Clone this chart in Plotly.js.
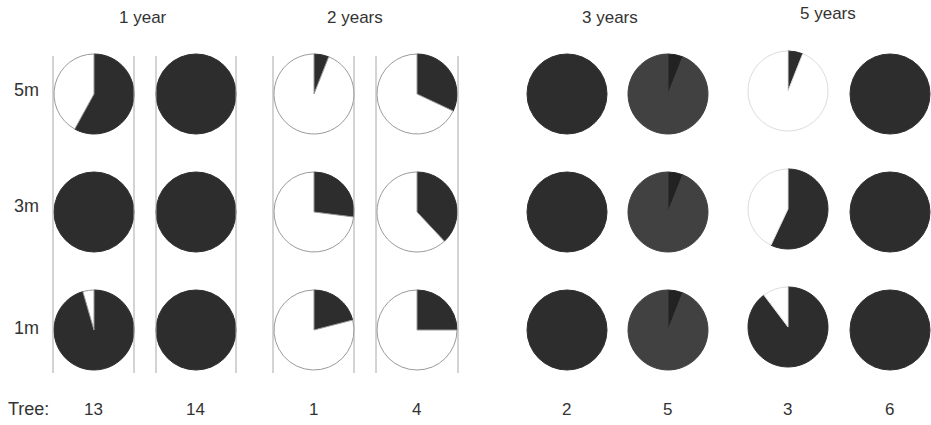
<!DOCTYPE html>
<html>
<head>
<meta charset="utf-8">
<script src="https://cdn.plot.ly/plotly-3.0.1.min.js"></script>
<style>html,body{margin:0;padding:0;background:#fff;}#chart{width:931px;height:425px;}</style>
</head>
<body>
<div id="chart"></div>
<script>
// ---- data ----
const groups = ["1 year", "2 years", "3 years", "5 years"];
const trees = ["13", "14", "1", "4", "2", "5", "3", "6"];
const heights = ["5m", "3m", "1m"];
// shares of each pie, per height (rows: 5m, 3m, 1m) and tree (columns)
// dark wedge starting at 12 o'clock, clockwise
const darkShare = [
  [0.58, 1.00, 0.06, 0.32, 1.00, 0.06, 0.06, 1.00],
  [1.00, 1.00, 0.27, 0.38, 1.00, 0.06, 0.57, 1.00],
  [0.955, 1.00, 0.21, 0.25, 1.00, 0.06, 0.897, 1.00]
];
// mid-grey share following the dark wedge
const greyShare = [
  [0, 0, 0, 0, 0, 0.94, 0, 0],
  [0, 0, 0, 0, 0, 0.94, 0, 0],
  [0, 0, 0, 0, 0, 0.94, 0, 0]
];
// white remainder
const whiteShare = [
  [0.42, 0, 0.94, 0.68, 0, 0, 0.94, 0],
  [0, 0, 0.73, 0.62, 0, 0, 0.43, 0],
  [0.045, 0, 0.79, 0.75, 0, 0, 0.103, 0]
];

// ---- layout constants ----
const W = 931, H = 425, R = 40;
const colX = [94, 196, 314, 417, 567, 668, 788, 890];
const rowY = [94, 212, 330];
const colYShift = [0, 0, 0, 0, 0, 0, -3, 0];
const COLORS = { dark: "#2d2d2d", grey: "#414141", white: "#ffffff" };
const darkWedgeOnGrey = "#222222";

const traces = [];
for (let r = 0; r < heights.length; r++) {
  for (let c = 0; c < trees.length; c++) {
    const cx = colX[c], cy = rowY[r] + colYShift[c];
    const outline = (c === 6) ? "#dcdcdc" : "#9a9a9a";
    const parts = [
      { v: darkShare[r][c], label: "dark", fill: greyShare[r][c] > 0 ? darkWedgeOnGrey : COLORS.dark },
      { v: greyShare[r][c], label: "grey", fill: COLORS.grey },
      { v: whiteShare[r][c], label: "white", fill: COLORS.white }
    ].filter(p => p.v > 0);
    traces.push({
      type: "pie",
      values: parts.map(p => p.v),
      labels: parts.map(p => p.label),
      sort: false,
      direction: "clockwise",
      rotation: 0,
      textinfo: "none",
      hoverinfo: "none",
      showlegend: false,
      marker: {
        colors: parts.map(p => p.fill),
        line: { color: parts.map(p => p.label === "white" ? outline : p.fill), width: 1 }
      },
      domain: {
        x: [(cx - R) / W, (cx + R) / W],
        y: [1 - (cy + R) / H, 1 - (cy - R) / H]
      }
    });
  }
}

const font = { family: "Liberation Sans, Arial, sans-serif", color: "#333" };
const f = s => Object.assign({ size: s }, font);
const annotations = [];
const groupX = [143, 355, 610, 828], groupY = [17, 17, 17, 13];
groups.forEach((g, i) => annotations.push({
  text: g, x: groupX[i] / W, y: 1 - groupY[i] / H, xref: "paper", yref: "paper",
  showarrow: false, xanchor: "center", yanchor: "middle", font: f(17)
}));
const rowLabelY = [90, 206, 328];
heights.forEach((h, i) => annotations.push({
  text: h, x: 26 / W, y: 1 - rowLabelY[i] / H, xref: "paper", yref: "paper",
  showarrow: false, xanchor: "center", yanchor: "middle", font: f(18)
}));
annotations.push({
  text: "Tree:", x: 28 / W, y: 1 - 409 / H, xref: "paper", yref: "paper",
  showarrow: false, xanchor: "center", yanchor: "middle", font: f(18)
});
trees.forEach((t, i) => annotations.push({
  text: t, x: (colX[i] - 1) / W, y: 1 - 409 / H, xref: "paper", yref: "paper",
  showarrow: false, xanchor: "center", yanchor: "middle", font: f(17)
}));

const sepX = [53, 134, 156, 236, 273, 354, 376, 458];
const shapes = sepX.map(x => ({
  type: "line", xref: "paper", yref: "paper",
  x0: x / W, x1: x / W, y0: 1 - 56 / H, y1: 1 - 373 / H,
  line: { color: "#a8a8a8", width: 1 }
}));

Plotly.newPlot("chart", traces, {
  width: W, height: H,
  margin: { l: 0, r: 0, t: 0, b: 0 },
  paper_bgcolor: "#fff", plot_bgcolor: "#fff",
  annotations: annotations,
  shapes: shapes,
  showlegend: false
}, { staticPlot: true });
</script>
</body>
</html>
